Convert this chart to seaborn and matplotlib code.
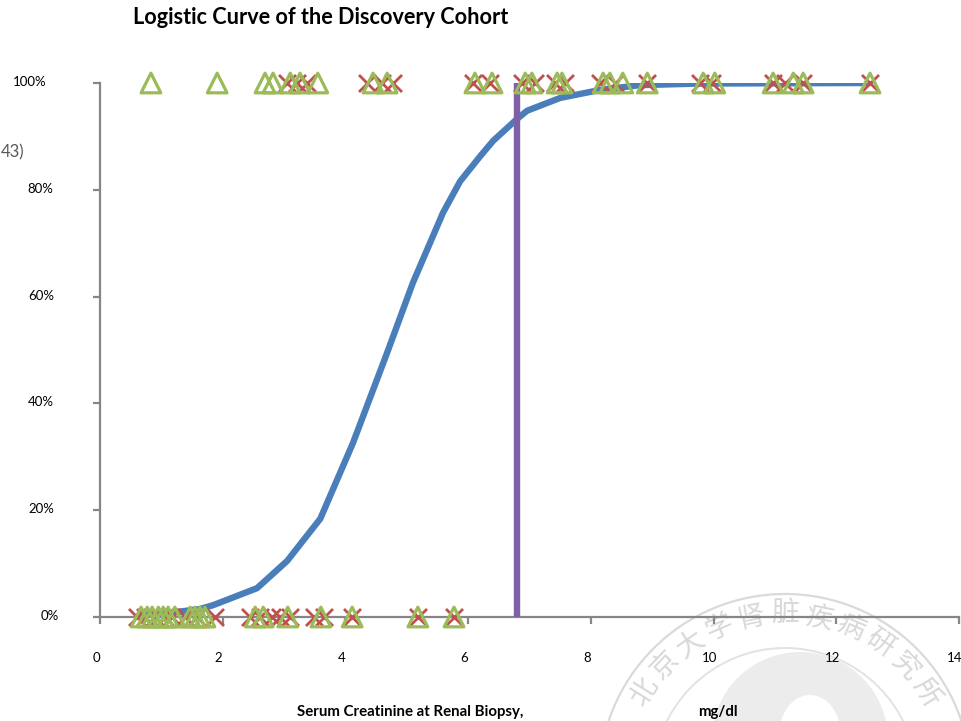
import numpy as np
import pandas as pd
import matplotlib
matplotlib.use("Agg")
import matplotlib.pyplot as plt
import matplotlib.transforms as mtransforms
from matplotlib.ticker import PercentFormatter
from matplotlib.patches import Circle, Ellipse
import seaborn as sns

# Fitted logistic probability along serum creatinine (mg/dl)
curve_creatinine = [0.67, 1.09, 1.63, 1.84, 2.56, 3.05, 3.59, 4.12, 4.68, 5.10,
                    5.59, 5.87, 6.19, 6.41, 6.80, 6.96, 7.50, 8.15, 8.80, 9.80, 12.55]
curve_probability = [0.003, 0.007, 0.015, 0.022, 0.054, 0.105, 0.184, 0.325, 0.495, 0.626,
                     0.757, 0.816, 0.862, 0.892, 0.933, 0.948, 0.972, 0.987, 0.996, 0.999, 1.0]

# Cut-off value of serum creatinine
cutoff_creatinine = 6.80

# Observed patients: outcome 1 (top row) and outcome 0 (bottom row)
triangle_event = [0.83, 1.91, 2.69, 2.82, 3.10, 3.26, 3.55, 4.45, 4.68, 6.11, 6.39, 6.93, 7.04,
                  7.45, 7.53, 8.20, 8.31, 8.52, 8.92, 9.83, 10.02, 10.97, 11.30, 11.46, 12.55]
cross_event = [3.05, 3.21, 3.37, 4.35, 4.60, 4.78, 6.08, 6.36, 6.88, 7.09, 7.42, 7.58, 8.15,
               8.39, 8.92, 9.78, 9.98, 10.97, 11.17, 11.46, 12.55]
triangle_none = [0.67, 0.77, 0.85, 0.95, 1.03, 1.11, 1.22, 1.47, 1.55, 1.63, 1.71, 2.53, 2.66,
                 3.06, 3.60, 4.11, 5.18, 5.77]
cross_none = [0.60, 0.73, 0.90, 1.06, 1.17, 1.39, 1.58, 1.87, 2.44, 2.61, 2.80, 2.93, 3.10,
              3.49, 3.65, 4.11, 5.18, 5.77]

x_ticks = [0, 2, 4, 6, 8, 10, 12, 14]
y_ticks = [0, 0.2, 0.4, 0.6, 0.8, 1.0]

title_text = "Logistic Curve of the Discovery Cohort"
xlabel_left = "Serum Creatinine at Renal Biopsy,"
xlabel_right = "mg/dl"
side_note = "43)"
seal_text = "北京大学肾脏疾病研究所"

sns.set_theme(style="white")
plt.rcParams["font.family"] = ["Lato", "DejaVu Sans"]

W, H = 961, 721
fig = plt.figure(figsize=(W / 100, H / 100), dpi=100)


def fx(px):
    return px / W


def fy(py):
    return 1 - py / H


# faint seal watermark in the lower-right corner
seal_cx, seal_cy = 785, 780
wm = fig.add_axes([0, 0, 1, 1], zorder=0)
wm.set_xlim(0, W)
wm.set_ylim(H, 0)
wm.set_axis_off()
wm.add_patch(Circle((seal_cx + 15, seal_cy - 40), 88, facecolor="#ececec", edgecolor="none"))
wm.add_patch(Ellipse((seal_cx + 25, seal_cy - 45), 62, 80, facecolor="white", edgecolor="none"))
wm.add_patch(Circle((seal_cx, seal_cy), 186, facecolor="none", edgecolor="#dadada", lw=1.6))
wm.add_patch(Circle((seal_cx, seal_cy), 132, facecolor="none", edgecolor="#e2e2e2", lw=1.4))
angles = np.linspace(-58, 58, len(seal_text))
for ch, ang in zip(seal_text, angles):
    a = np.deg2rad(ang)
    px = seal_cx + 166 * np.sin(a)
    py = seal_cy - 166 * np.cos(a)
    wm.text(px, py, ch, rotation=-ang, ha="center", va="center", fontsize=20,
            color="#d8d8d8", family=["Noto Sans CJK SC", "DejaVu Sans"])

ax = fig.add_axes([fx(100), fy(617), fx(959) - fx(100), fy(83) - fy(617)], zorder=2)
ax.patch.set_alpha(0)

curve_df = pd.DataFrame({"creatinine": curve_creatinine, "probability": curve_probability})
sns.lineplot(data=curve_df, x="creatinine", y="probability", ax=ax, color="#4a7ebb",
             lw=4.6, estimator=None, sort=False, zorder=3, solid_capstyle="butt",
             solid_joinstyle="round")

ax.vlines(cutoff_creatinine, 0, 1, color="#7f5fa5", lw=4.6, zorder=4, clip_on=False)

cross_df = pd.DataFrame({"creatinine": cross_event + cross_none,
                         "outcome": [1.0] * len(cross_event) + [0.0] * len(cross_none)})
tri_df = pd.DataFrame({"creatinine": triangle_event + triangle_none,
                       "outcome": [1.0] * len(triangle_event) + [0.0] * len(triangle_none)})

sns.scatterplot(data=cross_df, x="creatinine", y="outcome", ax=ax, marker="x", s=150,
                color="#c0504d", linewidth=2.0, zorder=5, clip_on=False)
sns.scatterplot(data=tri_df, x="creatinine", y="outcome", ax=ax, marker="^", s=200,
                facecolors="none", edgecolors="#9bbb59", linewidth=2.3, zorder=6,
                clip_on=False)

ax.set_xlim(0, 14)
ax.set_ylim(0, 1)
ax.set_xticks(x_ticks)
ax.set_yticks(y_ticks)
ax.yaxis.set_major_formatter(PercentFormatter(1.0, decimals=0))
ax.set_xlabel("")
ax.set_ylabel("")

for side in ["top", "right"]:
    ax.spines[side].set_visible(False)
for side in ["left", "bottom"]:
    ax.spines[side].set_color("#868686")
    ax.spines[side].set_linewidth(1.6)

ax.tick_params(axis="y", direction="out", length=5, width=1.6, color="#868686",
               pad=28, labelsize=9.5, labelcolor="black", left=True)
ax.tick_params(axis="x", direction="out", length=5, width=1.6, color="#868686",
               pad=20, labelsize=9.5, labelcolor="black", bottom=True)

# small nudges of individual tick labels
y_shift = {0: 5, 1: 0, 2: 0, 3: 0, 4: -1, 5: -8}
for i, lab in enumerate(ax.get_yticklabels()):
    lab.set_transform(lab.get_transform() +
                      mtransforms.ScaledTranslation(y_shift[i] / 100, 2 / 100,
                                                    fig.dpi_scale_trans))
for lab in ax.get_xticklabels():
    lab.set_transform(lab.get_transform() +
                      mtransforms.ScaledTranslation(-4 / 100, 0, fig.dpi_scale_trans))

fig.text(fx(133), fy(18), title_text, ha="left", va="center", fontsize=15.6,
         fontweight="bold", color="black")
fig.text(fx(410), fy(712), xlabel_left, ha="center", va="center", fontsize=10.8,
         fontweight="bold", color="black")
fig.text(fx(718), fy(712), xlabel_right, ha="center", va="center", fontsize=10.8,
         fontweight="bold", color="black")
fig.text(fx(1), fy(152), side_note, ha="left", va="center", fontsize=12,
         color="#595959")

fig.savefig("out.png", dpi=100)
